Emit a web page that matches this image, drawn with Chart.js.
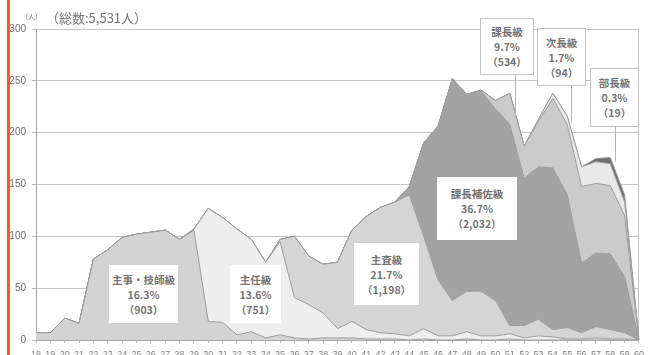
<!DOCTYPE html>
<html><head><meta charset="utf-8">
<script src="https://cdn.jsdelivr.net/npm/chart.js@4.4.1/dist/chart.umd.min.js"></script>
<style>
html,body{margin:0;padding:0;background:#fff;overflow:hidden;}
#wrap{position:relative;width:650px;height:355px;}
#bar{position:absolute;left:7px;top:0;width:3px;height:355px;background:#ec5f2a;z-index:5}
.t{position:absolute;font-family:"Noto Sans CJK JP","Noto Sans",sans-serif;color:#767676;white-space:nowrap;line-height:1}
.box{position:absolute;background:#fff;font-family:"Noto Sans CJK JP","Noto Sans",sans-serif;color:#757575;font-weight:bold;font-size:10.5px;line-height:15px;text-align:center;display:flex;flex-direction:column;justify-content:center;box-sizing:border-box;white-space:nowrap}
.box.b{border:1px solid #c4c4c4}
</style></head>
<body><div id="wrap"><canvas id="c"></canvas><div id="bar"></div>
<div class="t" style="left:21px;top:13px;font-size:7px">（人）</div>
<div class="t" style="left:46px;top:11px;font-size:13px">（総数:5,531人）</div>
</div>
<script>
// ages (x categories)
const ages = [18,19,20,21,22,23,24,25,26,27,28,29,30,31,32,33,34,35,36,37,38,39,40,41,42,43,44,45,46,47,48,49,50,51,52,53,54,55,56,57,58,59,60];
// headcount per age, by grade (stacked bottom -> top)
const jimu   = [7,7,21,16,78,87,99,102,104,106,97,106,18,17,5,8,2,5,2,1,2,2,2,1,1,1,0,1,0,0,1,0,0,1,0,0,0,0,0,0,0,0,0];
const shunin = [0,0,0,0,0,0,0,0,0,0,0,1,109,101,102,89,73,90,39,33,24,9,16,9,6,5,4,10,4,4,7,4,4,5,2,4,3,1,1,2,1,1,0];
const shusa  = [0,0,0,0,0,0,0,0,0,0,0,0,0,0,0,0,0,2,59,47,47,64,88,109,121,127,136,89,54,34,39,43,34,8,12,16,7,11,6,11,9,6,0];
const hosa   = [0,0,0,0,0,0,0,0,0,0,0,0,0,0,0,0,0,0,0,0,0,0,0,0,0,0,8,90,148,214,190,193,185,194,142,147,156,128,67,71,73,54,0];
const kacho  = [0,0,0,0,0,0,0,0,0,0,0,0,0,0,0,0,0,0,0,0,0,0,0,0,0,0,0,0,0,0,0,1,8,30,31,44,67,68,74,67,66,59,0];
const jicho  = [0,0,0,0,0,0,0,0,0,0,0,0,0,0,0,0,0,0,0,0,0,0,0,0,0,0,0,0,0,0,0,0,0,0,0,2,5,8,19,21,21,13,0];
const bucho  = [0,0,0,0,0,0,0,0,0,0,0,0,0,0,0,0,0,0,0,0,0,0,0,0,0,0,0,0,0,0,0,0,0,0,0,0,0,0,0,3,6,7,0];
const seriesNames = ['主事・技師級','主任級','主査級','課長補佐級','課長級','次長級','部長級'];
const seriesPct   = ['16.3%','13.6%','21.7%','36.7%','9.7%','1.7%','0.3%'];
const seriesCount = ['903','751','1,198','2,032','534','94','19'];
const yTicks = [0,50,100,150,200,250,300];

const fills = ['#d3d3d3','#eeeeee','#d5d5d5','#a3a3a3','#cbcbcb','#e9e9e9','#6e6e6e'];
const values = [jimu,shunin,shusa,hosa,kacho,jicho,bucho];

// label boxes (placement in data units, size in px)
const boxes = [
  {i:0, age:25.47, val:43.9, w:69, h:58},
  {i:1, age:33.31, val:44.8, w:51, h:58},
  {i:2, age:42.41, val:64.1, w:65, h:62},
  {i:3, age:48.69, val:127.3, w:80, h:63},
  {i:4, age:50.78, val:283.5, w:54, h:57, border:true, leadAge:51.38, leadTo:214},
  {i:5, age:54.63, val:273.4, w:49, h:58, border:true, leadAge:55.29, leadTo:210},
  {i:6, age:58.31, val:234.3, w:49, h:59, border:true, leadAge:58.35, leadTo:172}
];

const leaderPlugin = {
  id:'leaders',
  afterDatasetsDraw(chart){
    const {ctx, scales:{x,y}} = chart;
    ctx.save(); ctx.strokeStyle='#b4b4b4'; ctx.lineWidth=1;
    boxes.forEach(b=>{
      if(b.leadTo==null) return;
      const px = Math.round(x.getPixelForValue(b.leadAge - ages[0]))+0.5;
      const top = y.getPixelForValue(b.val) + b.h/2;
      const bot = y.getPixelForValue(b.leadTo);
      ctx.beginPath(); ctx.moveTo(px, top); ctx.lineTo(px, bot); ctx.stroke();
    });
    ctx.restore();
  }
};

const datasets = values.map((v,k)=>({
  label: seriesNames[k],
  data: v,
  backgroundColor: fills[k],
  borderColor: '#9c9c9c',
  borderWidth: 1,
  pointRadius: 0,
  tension: 0,
  fill: k===0 ? 'origin' : '-1'
}));

const chart = new Chart(document.getElementById('c'), {
  type:'line',
  data:{labels:ages, datasets},
  options:{
    responsive:true, maintainAspectRatio:false, animation:false,
    layout:{padding:{top:29,right:9,left:0,bottom:0}},
    plugins:{legend:{display:false}, tooltip:{enabled:false}},
    scales:{
      x:{
        type:'category', offset:false,
        grid:{drawOnChartArea:true, color:(c)=> c.index===ages.length-1 ? '#c4c4c4' : 'rgba(0,0,0,0)', tickColor:'#bdbdbd', tickLength:3},
        border:{color:'#a8a8a8'},
        ticks:{autoSkip:false, maxRotation:0, padding:6, color:'#808080', font:{family:'Liberation Sans', size:9}},
        afterFit(s){ s.height = 15; }
      },
      y:{
        stacked:true, min:0, max:300,
        afterBuildTicks(s){ s.ticks = yTicks.map(v=>({value:v})); },
        grid:{color:'#c6c6c6', tickLength:4, tickColor:'#bdbdbd'},
        border:{color:'#a8a8a8'},
        ticks:{padding:6, color:'#6e6e6e', font:{family:'Liberation Sans', size:10}},
        afterFit(s){ s.width = 36; }
      }
    }
  },
  plugins:[leaderPlugin]
});

const wrap = document.getElementById('wrap');
boxes.forEach(b=>{
  const cx = chart.scales.x.getPixelForValue(b.age - ages[0]);
  const cy = chart.scales.y.getPixelForValue(b.val);
  const d = document.createElement('div');
  d.className = 'box' + (b.border ? ' b' : '');
  d.style.left = Math.round(cx - b.w/2) + 'px';
  d.style.top = Math.round(cy - b.h/2) + 'px';
  d.style.width = b.w + 'px';
  d.style.height = b.h + 'px';
  d.innerHTML = '<div>'+seriesNames[b.i]+'</div><div>'+seriesPct[b.i]+'</div><div>（'+seriesCount[b.i]+'）</div>';
  wrap.appendChild(d);
});
</script>
</body></html>
